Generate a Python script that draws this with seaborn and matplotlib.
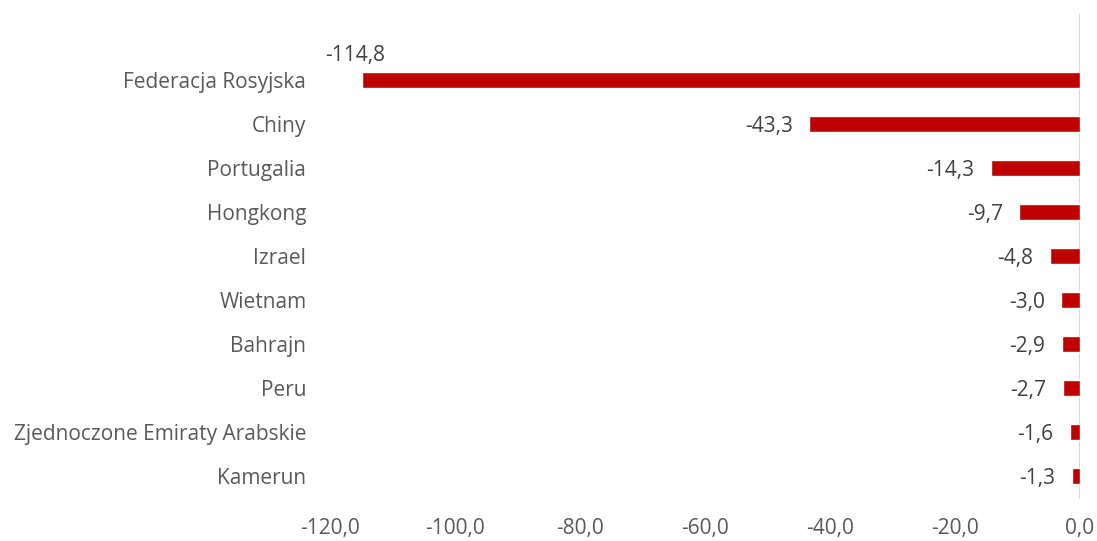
import seaborn as sns
import matplotlib.pyplot as plt
import pandas as pd

countries = ['Federacja Rosyjska', 'Chiny', 'Portugalia', 'Hongkong', 'Izrael',
             'Wietnam', 'Bahrajn', 'Peru', 'Zjednoczone Emiraty Arabskie', 'Kamerun']
values = [-114.8, -43.3, -14.3, -9.7, -4.8, -3.0, -2.9, -2.7, -1.6, -1.3]
xticks = [-120, -100, -80, -60, -40, -20, 0]

df = pd.DataFrame({'country': countries, 'value': values})

sns.set_style('white')
plt.rcParams['font.family'] = ['Open Sans', 'DejaVu Sans']

fig = plt.figure(figsize=(10.97, 5.41), dpi=100)
ax = fig.add_axes([0.3008, 0.0776, 0.6837, 0.8964])

sns.barplot(data=df, x='value', y='country', color='#C00000', width=0.36,
            saturation=1, ax=ax, orient='h')

ax.set_xlim(-120, 0)
ax.set_ylim(9.52, -1.5)
ax.set_xticks(xticks)
ax.set_xticklabels([f'{t:.1f}'.replace('.', ',') for t in xticks])
ax.tick_params(axis='both', length=0, labelsize=15, colors='#595959')
ax.tick_params(axis='y', pad=17)
ax.tick_params(axis='x', pad=14)
ax.set_xlabel('')
ax.set_ylabel('')
ax.axvline(0, color='#D9D9D9', lw=1.5, zorder=0)
sns.despine(left=True, bottom=True)

for i, v in enumerate(values):
    txt = f'{v:.1f}'.replace('.', ',')
    if i == 0:
        ax.annotate(txt, (v, i), xytext=(-5, 18), textcoords='offset points',
                    ha='center', va='center', fontsize=15, color='#404040')
    else:
        ax.annotate(txt, (v, i), xytext=(-12, -2), textcoords='offset points',
                    ha='right', va='center', fontsize=15, color='#404040')

plt.savefig('out.png', dpi=100)
